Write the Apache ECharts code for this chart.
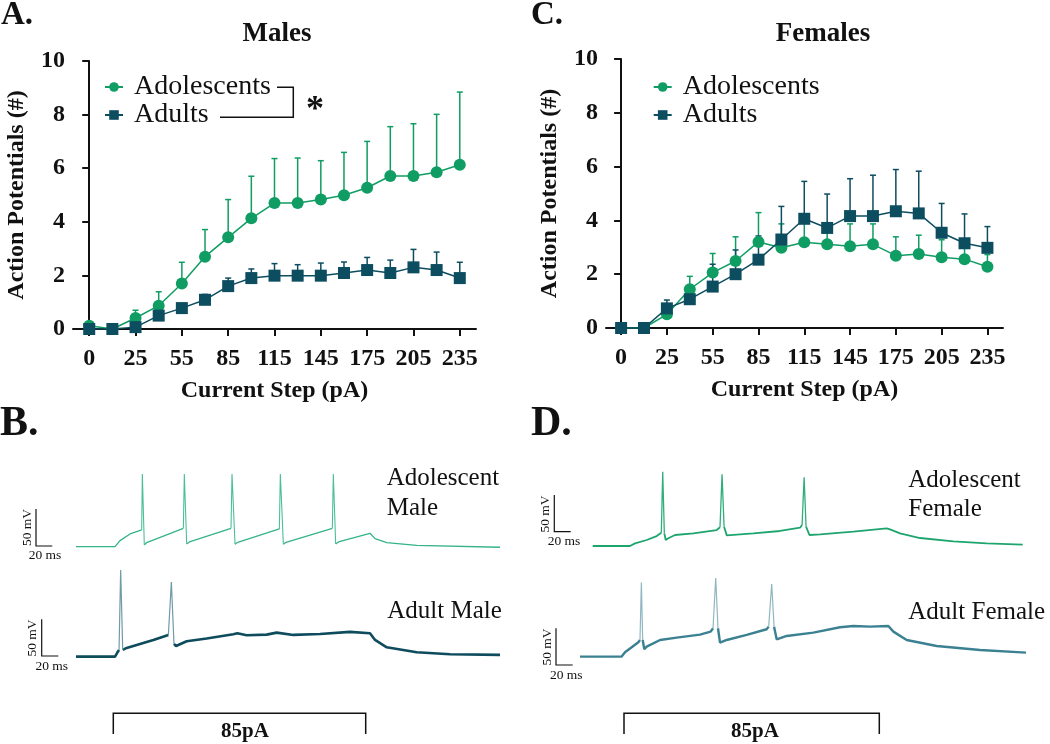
<!DOCTYPE html>
<html><head><meta charset="utf-8">
<script src="https://cdn.jsdelivr.net/npm/echarts@6/dist/echarts.min.js"></script>
<style>html,body{margin:0;padding:0;background:#fff}#c{width:1050px;height:744px}</style>
</head><body><div id="c"></div>
<script>
// ---------- data ----------
const steps = ['0','10','25','40','55','70','85','100','115','130','145','160','175','190','205','220','235'];
const labeledIdx = [0,2,4,6,8,10,12,14,16];
const yTicks = [0,2,4,6,8,10];

const maleAdolMean = [0.12,0,0.41,0.87,1.70,2.70,3.42,4.13,4.70,4.70,4.83,4.99,5.27,5.71,5.71,5.85,6.13];
const maleAdolErr  = [0.05,0,0.29,0.52,0.79,1.01,1.41,1.57,1.66,1.68,1.45,1.60,1.73,1.84,1.95,2.16,2.71];
const maleAdultMean = [0,0,0.07,0.50,0.78,1.09,1.60,1.90,1.99,1.99,1.99,2.09,2.20,2.09,2.30,2.20,1.90];
const maleAdultErr  = [0,0,0.05,0.10,0.12,0.20,0.30,0.34,0.45,0.41,0.47,0.41,0.47,0.48,0.67,0.67,0.59];

const femAdolMean = [0,0,0.51,1.44,2.06,2.49,3.20,2.98,3.19,3.11,3.04,3.11,2.69,2.75,2.63,2.56,2.28];
const femAdolErr  = [0,0,0.10,0.48,0.71,0.90,1.09,0.89,0.83,0.60,0.83,0.76,0.70,0.70,0.65,0.58,0.45];
const femAdultMean = [0,0,0.73,1.07,1.54,2.00,2.54,3.29,4.06,3.72,4.16,4.16,4.34,4.26,3.54,3.15,2.98];
const femAdultErr  = [0,0,0.31,0.30,0.83,0.90,0.88,1.23,1.39,1.26,1.39,1.52,1.55,1.57,1.09,1.09,0.79];

// example traces: [time (ms), membrane potential (mV)]
const traceAdolMale = [[0,-65],[47.9,-65],[54.0,-56.8],[66.3,-47.7],[80.6,-42.3],[81.4,34.1],[83.8,-62.7],[86.7,-59.5],
 [131.7,-40.0],[132.9,34.1],[135.8,-61.4],[139.1,-58.6],[190.2,-40.0],[191.4,34.1],[195.1,-61.8],[198.4,-59.1],
 [249.5,-40.9],[250.7,34.1],[254.4,-61.8],[257.7,-59.1],[314.5,-40.0],[315.7,34.1],[318.6,-61.4],[321.9,-58.6],
 [360.7,-46.8],[366.9,-54.1],[381.2,-59.5],[418.0,-63.2],[520.2,-65.9]];
const traceAdultMale = [[0,-65],[47.9,-65],[50.7,-59.5],[52.8,-55.9],[54.8,53.2],[57.3,-55.9],[58.5,-55.0],[62.2,-53.2],
 [78.5,-47.7],[94.9,-42.3],[113.3,-35.4],[117.0,36.9],[120.2,-47.7],[122.7,-50.5],[135.8,-44.1],[160.3,-40.4],
 [193.0,-34.5],[197.9,-33.2],[209.4,-35.9],[234.0,-35.0],[246.2,-32.3],[266.7,-35.4],[299.4,-34.1],[336.2,-31.3],
 [360.7,-33.2],[366.9,-42.3],[381.2,-52.3],[418.0,-59.1],[458.9,-61.8],[520.2,-62.7]];
const traceAdolFemale = [[0,-65],[45.8,-65],[51.9,-61.4],[66.3,-56.8],[78.5,-51.4],[84.2,-46.8],[85.9,36.4],[87.9,-47.7],
 [89.6,-56.8],[92.8,-54.5],[101.0,-50.0],[123.5,-47.7],[152.1,-43.2],[156.2,-39.5],[158.7,32.8],[161.2,-38.6],
 [164.5,-50.5],[197.2,-47.7],[229.9,-44.5],[254.4,-40.0],[256.9,-36.3],[259.4,28.7],[261.8,-38.6],[265.9,-50.0],
 [279.0,-49.1],[319.8,-45.4],[360.7,-40.9],[364.8,-42.3],[377.1,-47.7],[401.6,-54.1],[442.5,-58.6],[483.4,-61.4],[527.6,-63.2]];
const traceAdultFemale = [[0,-65],[51.1,-65],[55.2,-59.1],[63.4,-52.3],[71.6,-45.4],[73.6,-42.3],[75.3,36.0],[76.9,-42.3],
 [78.9,-55.0],[81.8,-51.4],[98.2,-42.3],[118.6,-39.1],[147.2,-35.0],[160.3,-30.9],[163.2,-26.3],[166.5,42.3],[169.3,-26.3],
 [171.8,-45.9],[180.0,-42.3],[204.5,-35.4],[229.0,-27.7],[231.5,-24.1],[235.2,34.1],[238.1,-24.1],[241.3,-41.4],
 [253.6,-36.8],[286.3,-32.3],[319.0,-25.0],[335.4,-23.2],[355.8,-24.1],[378.3,-23.2],[384.5,-30.9],[400.8,-42.3],
 [437.6,-50.5],[490.8,-55.9],[547.2,-59.5]];

// ---------- style ----------
const GREEN = '#0f9d63', TEAL = '#0c4d60';
const SERIF = '"Liberation Serif","DejaVu Serif",serif';
const chart = echarts.init(document.getElementById('c'), null, {renderer:'canvas'});

function pairs(arr){ return arr.map((v,i)=>[i,v]); }
function errData(mean, err){ return mean.map((v,i)=>[i,v,err[i]]); }
function errRender(color){
  return function(params, api){
    const x = api.value(0), m = api.value(1), e = api.value(2);
    if (!(e > 0)) return null;
    const p0 = api.coord([x, m]), p1 = api.coord([x, m + e]);
    const w = 3;
    return {type:'group', children:[
      {type:'line', shape:{x1:p0[0],y1:p0[1],x2:p1[0],y2:p1[1]}, style:{stroke:color,lineWidth:1.5}},
      {type:'line', shape:{x1:p1[0]-w,y1:p1[1],x2:p1[0]+w,y2:p1[1]}, style:{stroke:color,lineWidth:1.5}}
    ]};
  };
}
const axisFont = {fontFamily:SERIF, fontWeight:'bold', fontSize:24, color:'#111'};
function catX(gi, min, max){
  return {gridIndex:gi, type:'value', min:min, max:max,
    axisLine:{show:true, lineStyle:{color:'#111', width:2}},
    axisTick:{show:true, inside:false, length:7, lineStyle:{color:'#111', width:2}, customValues:labeledIdx},
    axisLabel:Object.assign({margin:18, customValues:labeledIdx, formatter:v=>steps[Math.round(v)]}, axisFont),
    splitLine:{show:false},
    name:'Current Step (pA)', nameLocation:'middle', nameGap:50, nameTextStyle:axisFont};
}
function valY(gi){
  return {gridIndex:gi, type:'value', min:0, max:10, interval:2,
    axisLine:{show:true, lineStyle:{color:'#111', width:2}},
    axisTick:{show:true, inside:false, length:7, lineStyle:{color:'#111', width:2}},
    axisLabel:Object.assign({margin:8, formatter:v=>yTicks.includes(v)?String(v):''}, axisFont),
    splitLine:{show:false},
    name:'Action Potentials (#)', nameLocation:'middle', nameGap:44, nameTextStyle:axisFont};
}
function hidX(gi,max){ return {gridIndex:gi, type:'value', min:0, max:max, show:false}; }
function hidY(gi){ return {gridIndex:gi, type:'value', min:-80, max:60, show:false}; }
function meanSeries(name, gi, data, color, sym){
  return {name:name, type:'line', xAxisIndex:gi, yAxisIndex:gi, data:pairs(data),
    symbol:sym, symbolSize:12, itemStyle:{color:color}, lineStyle:{color:color, width:1.5}, z:5};
}
function errSeries(gi, mean, err, color){
  return {type:'custom', xAxisIndex:gi, yAxisIndex:gi, data:errData(mean,err),
    renderItem:errRender(color), encode:{x:0,y:1}, z:3, silent:true};
}
// body of trace: spikes (peaks above 0 mV) removed so they can be drawn thinner
function bodyOf(data){ return data.map(p => p[1] > 0 ? [p[0], null] : p); }
function spikesOf(data){
  const out = [];
  data.forEach((p,i) => { if (p[1] > 0) { out.push(data[i-1], p, data[i+1], [p[0], null]); } });
  return out;
}
function traceSeries(gi, data, color, w, spikeColor, sw){
  return [
    {type:'line', xAxisIndex:gi, yAxisIndex:gi, data:bodyOf(data), showSymbol:false, symbol:'none',
      connectNulls:false, lineStyle:{color:color, width:w}, silent:true, clip:false},
    {type:'line', xAxisIndex:gi, yAxisIndex:gi, data:spikesOf(data), showSymbol:false, symbol:'none',
      connectNulls:false, lineStyle:{color:spikeColor, width:sw}, silent:true, clip:false}
  ];
}
function txt(x,y,text,font,align,valign,rot){
  const o = {type:'text', x:x, y:y, style:{text:text, font:font, fill:'#111', align:align||'left', verticalAlign:valign||'middle'}};
  if (rot) o.rotation = rot;
  return o;
}
function poly(points, w){
  return {type:'polyline', shape:{points:points}, style:{stroke:'#111', lineWidth:w||1.5, fill:null}};
}
const legendCommon = {orient:'vertical', itemWidth:18, itemHeight:12, itemGap:0, padding:0,
  data:['Adolescents','Adults'], selectedMode:false,
  textStyle:{fontFamily:SERIF, fontSize:28, color:'#111', lineHeight:28, padding:[0,0,0,6]}};

const option = {
  animation:false,
  backgroundColor:'#fff',
  grid:[
    {left:73, top:61, width:403, height:268},
    {left:606, top:59, width:397, height:269},
    {left:76, top:455, width:424, height:102.6},
    {left:76, top:565, width:424, height:102.6},
    {left:592.7, top:454.4, width:430, height:102.6},
    {left:580, top:565, width:446, height:102.6}
  ],
  xAxis:[catX(0,-0.7,16.7), catX(1,-0.66,16.68), hidX(2,520.2), hidX(3,520.2), hidX(4,527.6), hidX(5,547.2)],
  yAxis:[valY(0), valY(1), hidY(2), hidY(3), hidY(4), hidY(5)],
  legend:[
    Object.assign({left:104, top:73}, legendCommon),
    Object.assign({left:652.7, top:73}, legendCommon)
  ],
  series:[
    errSeries(0, maleAdolMean, maleAdolErr, GREEN),
    errSeries(0, maleAdultMean, maleAdultErr, TEAL),
    meanSeries('Adolescents', 0, maleAdolMean, GREEN, 'circle'),
    meanSeries('Adults', 0, maleAdultMean, TEAL, 'rect'),
    errSeries(1, femAdolMean, femAdolErr, GREEN),
    errSeries(1, femAdultMean, femAdultErr, TEAL),
    meanSeries('Adolescents', 1, femAdolMean, GREEN, 'circle'),
    meanSeries('Adults', 1, femAdultMean, TEAL, 'rect')
  ].concat(
    traceSeries(2, traceAdolMale, '#35b487', 1.3, '#4cbf95', 1.1),
    traceSeries(3, traceAdultMale, '#0d4b5d', 2.6, '#6f9aa6', 1.2),
    traceSeries(4, traceAdolFemale, '#1ea56e', 1.8, '#2fae7b', 1.3),
    traceSeries(5, traceAdultFemale, '#3b8192', 2.4, '#8fb7c1', 1.2)
  ),
  graphic:[
    txt(1,15,'A.','bold 33px '+SERIF),
    txt(531,15,'C.','bold 33px '+SERIF),
    txt(0,424,'B.','bold 42px '+SERIF),
    txt(531,424,'D.','bold 42px '+SERIF),
    txt(277,34,'Males','bold 27px '+SERIF,'center'),
    txt(823,34,'Females','bold 27px '+SERIF,'center'),
    poly([[277,87.3],[293.3,87.3],[293.3,117.3],[220,117.3]],1.5),
    txt(315,111,'*','bold 36px '+SERIF,'center'),
    // scale bars
    poly([[36,509],[36,546],[52.3,546]],1.2),
    txt(27,527.5,'50 mV','13.5px '+SERIF,'center','middle',Math.PI/2),
    txt(45,555.5,'20 ms','13.5px '+SERIF,'center'),
    poly([[41.7,619.3],[41.7,656],[58.3,656]],1.2),
    txt(32,638,'50 mV','13.5px '+SERIF,'center','middle',Math.PI/2),
    txt(51.7,666,'20 ms','13.5px '+SERIF,'center'),
    poly([[554.3,495],[554.3,531.7],[570.7,531.7]],1.2),
    txt(545,514,'50 mV','13.5px '+SERIF,'center','middle',Math.PI/2),
    txt(564,541.7,'20 ms','13.5px '+SERIF,'center'),
    poly([[556,628.3],[556,665],[572.7,665]],1.2),
    txt(547.3,647,'50 mV','13.5px '+SERIF,'center','middle',Math.PI/2),
    txt(566.3,675,'20 ms','13.5px '+SERIF,'center'),
    // trace labels
    txt(386.7,478.3,'Adolescent','25px '+SERIF),
    txt(386.7,508.3,'Male','25px '+SERIF),
    txt(387.3,611.7,'Adult Male','25px '+SERIF),
    txt(908.3,480,'Adolescent','25px '+SERIF),
    txt(908.3,509.3,'Female','25px '+SERIF),
    txt(908.3,612.7,'Adult Female','25px '+SERIF),
    // stimulus brackets
    poly([[113.3,734],[113.3,713.3],[365.7,713.3],[365.7,734]],1.5),
    txt(245,732,'85pA','bold 21px '+SERIF,'center'),
    poly([[624,734],[624,713.3],[879.3,713.3],[879.3,734]],1.5),
    txt(755,732,'85pA','bold 21px '+SERIF,'center')
  ]
};
chart.setOption(option);
</script>
</body></html>
